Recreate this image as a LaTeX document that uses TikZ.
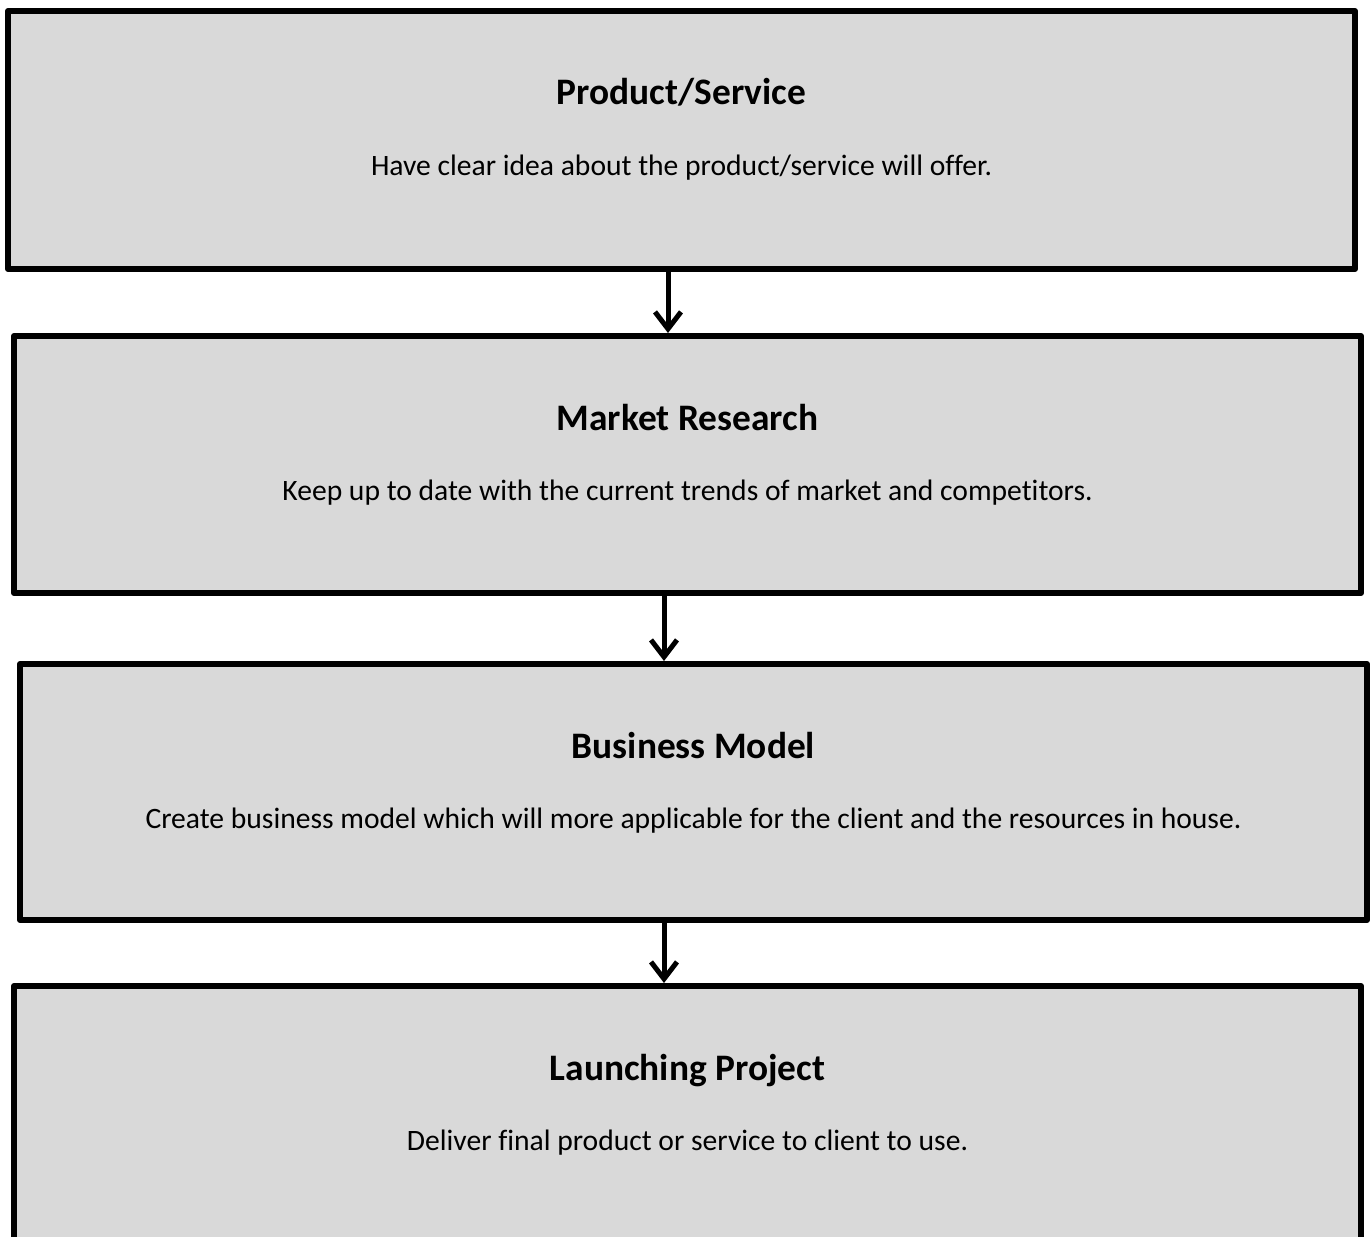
\documentclass[tikz,border=0pt]{standalone}
\usepackage{fontspec}
\setmainfont[Ligatures={NoCommon,NoContextual}]{Carlito}
\usetikzlibrary{arrows.meta}

\definecolor{boxgray}{HTML}{D9D9D9}
\tikzset{
  stagebox/.style={draw=black, fill=boxgray, line width=6pt, line join=round,
    rectangle, inner sep=0pt, minimum width=1347pt},
  stagetitle/.style={anchor=base, font=\fontsize{37.4}{44}\selectfont\bfseries, inner sep=0pt},
  stagetext/.style={anchor=base, font=\fontsize{29.6}{35}\selectfont, inner sep=0pt},
  flowarrow/.style={line width=5pt, -{Straight Barb[length=17pt, width=26pt, line width=5pt]}}
}

\begin{document}
\begin{tikzpicture}[x=1pt, y=-1pt]
  \useasboundingbox (0,0) rectangle (1372,1236);
  \clip (0,0) rectangle (1372,1236);

  % the four stages, top to bottom
  \node[stagebox, minimum height=258pt] (b1) at (681.5,140) {};
  \node[stagebox, minimum height=257pt] (b2) at (687.5,464.5) {};
  \node[stagebox, minimum height=256pt] (b3) at (693.5,792) {};
  \node[stagebox, minimum height=259pt] (b4) at (687.5,1115.5) {};

  % headings and descriptions
  \node[stagetitle] (t1) at ([yshift=-97pt]b1.north) {Product/Service};
  \node[stagetext]  (d1) at ([yshift=-167pt]b1.north) {Have clear idea about the product/service will offer.};

  \node[stagetitle] (t2) at ([yshift=-97pt]b2.north) {Market Research};
  \node[stagetext]  (d2) at ([yshift=-167pt]b2.north) {Keep up to date with the current trends of market and competitors.};

  \node[stagetitle] (t3) at ([yshift=-97pt]b3.north) {Business Model};
  \node[stagetext]  (d3) at ([yshift=-167pt]b3.north) {Create business model which will more applicable for the client and the resources in house.};

  \node[stagetitle] (t4) at ([yshift=-97pt]b4.north) {Launching Project};
  \node[stagetext]  (d4) at ([yshift=-167pt]b4.north) {Deliver final product or service to client to use.};

  % connectors between consecutive stages
  \draw[flowarrow] ([xshift=-13.5pt]b1.south) -- ([xshift=-19.5pt]b2.north);
  \draw[flowarrow] ([xshift=-23.5pt]b2.south) -- ([xshift=-29.5pt]b3.north);
  \draw[flowarrow] ([xshift=-29.5pt]b3.south) -- ([xshift=-23.5pt]b4.north);
\end{tikzpicture}
\end{document}
